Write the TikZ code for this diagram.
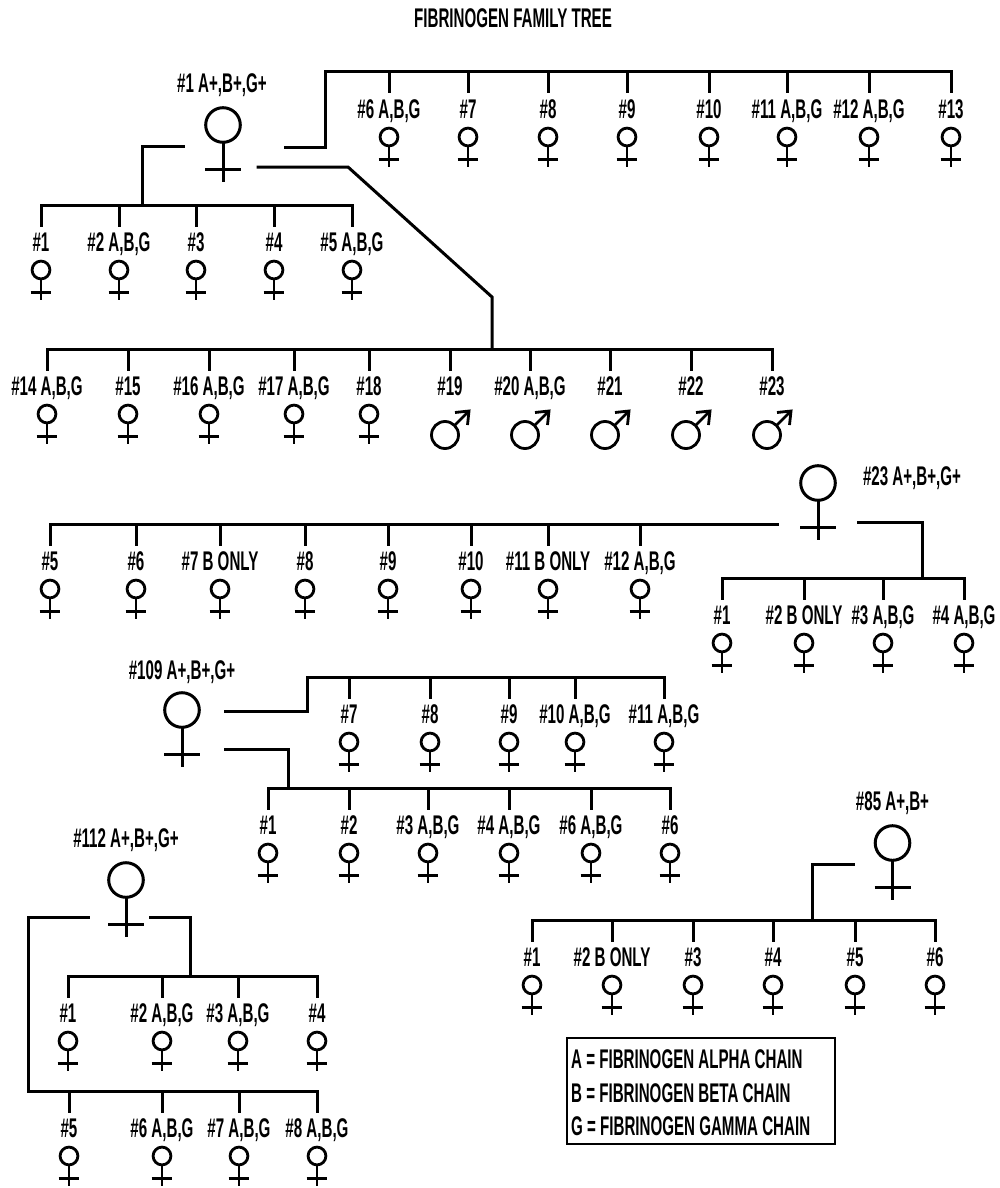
\documentclass[tikz,border=0pt]{standalone}
\usepackage{fontspec}
\setmainfont{Liberation Sans}[FakeStretch=0.56]
\tikzset{
  femsmall/.pic={
    \draw[line width=2.8pt] (0,0) circle[radius=8.9pt];
    \draw[line width=2.8pt] (0,8.9) -- (0,30);
    \draw[line width=2.8pt] (-10.3,22.5) -- (10.3,22.5);
  },
  fembig/.pic={
    \draw[line width=3pt] (0,0) circle[radius=17.3pt];
    \draw[line width=3pt] (0,17.3) -- (0,57);
    \draw[line width=3pt] (-18,44) -- (18,44);
  },
  malesym/.pic={
    \draw[line width=2.8pt] (0,0) circle[radius=13.5pt];
    \draw[line width=2.8pt] (9.55,-9.55) -- (24,-24);
    \draw[line width=2.8pt,line join=miter] (10,-22.5) -- (24,-24) -- (22.5,-10);
  }
}
\newcommand\fkid[4]{%
  \coordinate (#1b) at (#2,#3);
  \coordinate (#1d) at (#2,#3+20);
  \draw[conn] (#1b) -- (#1d);
  \node[lbl] (#1) at (#2,#3+46.5) {#4};
  \pic at (#2,#3+65) {femsmall};
}
\newcommand\mkid[4]{%
  \coordinate (#1b) at (#2,#3);
  \coordinate (#1d) at (#2,#3+20);
  \draw[conn] (#1b) -- (#1d);
  \node[lbl] (#1) at (#2,#3+46.5) {#4};
  \pic at (#2-5,#3+86) {malesym};
}
\begin{document}
\begin{tikzpicture}[x=1pt,y=-1pt,
  conn/.style={line width=3pt,line cap=rect,line join=miter},
  lbl/.style={font=\fontsize{27}{30}\selectfont\bfseries,inner sep=0pt,anchor=base}]
\useasboundingbox (0,0) rectangle (1000,1188);

% title
\node[lbl] (title) at (513,27.7) {FIBRINOGEN FAMILY TREE};

% ---------------- parent #1
\pic at (223,125) {fembig};
\node[lbl] (p1) at (222,92.7) {\#1 A+,B+,G+};

% top row
\fkid{ta}{389}{72}{\#6 A,B,G}
\fkid{tb}{468}{72}{\#7}
\fkid{tc}{548}{72}{\#8}
\fkid{td}{627}{72}{\#9}
\fkid{te}{709}{72}{\#10}
\fkid{tf}{787}{72}{\#11 A,B,G}
\fkid{tg}{869}{72}{\#12 A,B,G}
\fkid{th}{951}{72}{\#13}
\coordinate (p1ra) at (285,147);
\coordinate (p1rb) at (325,147);
\coordinate (p1rc) at (325,72);
\draw[conn] (p1ra) -- (p1rb) -- (p1rc) -- (thb);

% row 1
\fkid{ua}{41}{205}{\#1}
\fkid{ub}{119}{205}{\#2 A,B,G}
\fkid{uc}{196}{205}{\#3}
\fkid{ud}{274}{205}{\#4}
\fkid{ue}{352}{205}{\#5 A,B,G}
\coordinate (p1la) at (183,146);
\coordinate (p1lb) at (142,146);
\coordinate (p1lc) at (142,205);
\draw[conn] (p1la) -- (p1lb) -- (p1lc);
\draw[conn] (uab) -- (ueb);

% row 3
\fkid{va}{47}{349}{\#14 A,B,G}
\fkid{vb}{128}{349}{\#15}
\fkid{vc}{209}{349}{\#16 A,B,G}
\fkid{vd}{294}{349}{\#17 A,B,G}
\fkid{ve}{369}{349}{\#18}
\mkid{vf}{450}{349}{\#19}
\mkid{vg}{530}{349}{\#20 A,B,G}
\mkid{vh}{610}{349}{\#21}
\mkid{vi}{691}{349}{\#22}
\mkid{vj}{772}{349}{\#23}
\coordinate (p1da) at (258,167);
\coordinate (p1db) at (348,167);
\coordinate (p1dc) at (492,297);
\coordinate (p1dd) at (492,349);
\draw[conn] (p1da) -- (p1db) -- (p1dc) -- (p1dd);
\draw[conn] (vab) -- (vjb);

% ---------------- parent #23
\pic at (818,483) {fembig};
\node[lbl] (p23) at (912,485.7) {\#23 A+,B+,G+};
\fkid{wa}{50}{524}{\#5}
\fkid{wb}{136}{524}{\#6}
\fkid{wc}{220}{524}{\#7 B ONLY}
\fkid{wd}{305}{524}{\#8}
\fkid{we}{388}{524}{\#9}
\fkid{wf}{471}{524}{\#10}
\fkid{wg}{548}{524}{\#11 B ONLY}
\fkid{wh}{640}{524}{\#12 A,B,G}
\coordinate (p23l) at (777,524);
\draw[conn] (p23l) -- (wab);
\fkid{xa}{722}{578}{\#1}
\fkid{xb}{804}{578}{\#2 B ONLY}
\fkid{xc}{883}{578}{\#3 A,B,G}
\fkid{xd}{964}{578}{\#4 A,B,G}
\coordinate (p23ra) at (858,522);
\coordinate (p23rb) at (922,522);
\coordinate (p23rc) at (922,578);
\draw[conn] (p23ra) -- (p23rb) -- (p23rc);
\draw[conn] (xab) -- (xdb);

% ---------------- parent #109
\pic at (182,710) {fembig};
\node[lbl] (p109) at (182,679.7) {\#109 A+,B+,G+};
\fkid{ya}{349}{677}{\#7}
\fkid{yb}{430}{677}{\#8}
\fkid{yc}{509}{677}{\#9}
\fkid{yd}{575}{677}{\#10 A,B,G}
\fkid{ye}{664}{677}{\#11 A,B,G}
\coordinate (p109ua) at (225,711);
\coordinate (p109ub) at (307,711);
\coordinate (p109uc) at (307,677);
\draw[conn] (p109ua) -- (p109ub) -- (p109uc) -- (yeb);
\fkid{za}{268}{788}{\#1}
\fkid{zb}{349}{788}{\#2}
\fkid{zc}{428}{788}{\#3 A,B,G}
\fkid{zd}{509}{788}{\#4 A,B,G}
\fkid{ze}{591}{788}{\#6 A,B,G}
\fkid{zf}{670}{788}{\#6}
\coordinate (p109la) at (225,749);
\coordinate (p109lb) at (288,749);
\coordinate (p109lc) at (288,788);
\draw[conn] (p109la) -- (p109lb) -- (p109lc);
\draw[conn] (zab) -- (zfb);

% ---------------- parent #112
\pic at (126,880) {fembig};
\node[lbl] (p112) at (126,847) {\#112 A+,B+,G+};
\fkid{qa}{68}{976}{\#1}
\fkid{qb}{162}{976}{\#2 A,B,G}
\fkid{qc}{238}{976}{\#3 A,B,G}
\fkid{qd}{317}{976}{\#4}
\coordinate (p112ra) at (150,917);
\coordinate (p112rb) at (190,917);
\coordinate (p112rc) at (190,976);
\draw[conn] (p112ra) -- (p112rb) -- (p112rc);
\draw[conn] (qab) -- (qdb);
\fkid{sa}{69}{1091}{\#5}
\fkid{sb}{162}{1091}{\#6 A,B,G}
\fkid{sc}{239}{1091}{\#7 A,B,G}
\fkid{sd}{317}{1091}{\#8 A,B,G}
\coordinate (p112la) at (88,917);
\coordinate (p112lb) at (28,917);
\coordinate (p112lc) at (28,1091);
\draw[conn] (p112la) -- (p112lb) -- (p112lc) -- (sdb);

% ---------------- parent #85
\pic at (892.5,843) {fembig};
\node[lbl] (p85) at (892.5,810.7) {\#85 A+,B+};
\fkid{ma}{532}{920}{\#1}
\fkid{mb}{612}{920}{\#2 B ONLY}
\fkid{mc}{693}{920}{\#3}
\fkid{md}{773}{920}{\#4}
\fkid{me}{855}{920}{\#5}
\fkid{mf}{935}{920}{\#6}
\coordinate (p85a) at (853,864);
\coordinate (p85b) at (812,864);
\coordinate (p85c) at (812,920);
\draw[conn] (p85a) -- (p85b) -- (p85c);
\draw[conn] (mab) -- (mfb);

% ---------------- legend
\node[draw,line width=2.2pt,inner sep=0pt,minimum width=268pt,minimum height=106pt,anchor=north west] (legend) at (566,1037) {};
\node[lbl,anchor=base west] (la) at (571,1068.7) {A = FIBRINOGEN ALPHA CHAIN};
\node[lbl,anchor=base west] (lb) at (571,1102.7) {B = FIBRINOGEN BETA CHAIN};
\node[lbl,anchor=base west] (lg) at (571,1135.7) {G = FIBRINOGEN GAMMA CHAIN};
\end{tikzpicture}
\end{document}
